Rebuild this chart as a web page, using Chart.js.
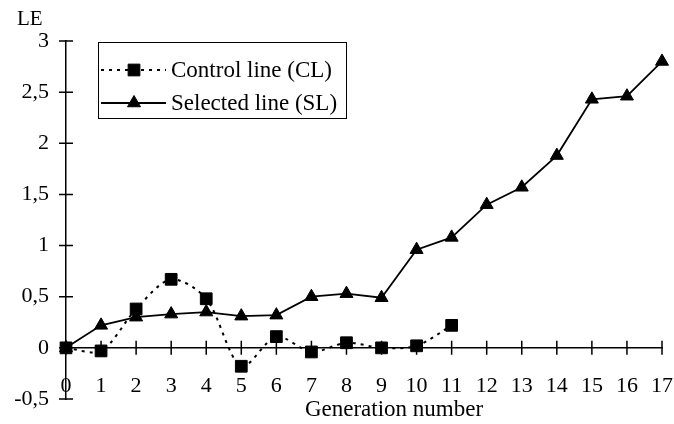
<!DOCTYPE html>
<html>
<head>
<meta charset="utf-8">
<script src="https://cdn.jsdelivr.net/npm/chart.js@4.4.1/dist/chart.umd.min.js"></script>
<style>
html,body{margin:0;padding:0;background:#fff;}
canvas{display:block;}
</style>
</head>
<body>
<canvas id="c" width="674" height="424"></canvas>
<script>
const generations = ['0','1','2','3','4','5','6','7','8','9','10','11','12','13','14','15','16','17'];
const controlLine = [0, -0.03, 0.38, 0.67, 0.48, -0.18, 0.11, -0.04, 0.05, 0.0, 0.02, 0.22, null, null, null, null, null, null];
const selectedLine = [0, 0.22, 0.30, 0.33, 0.35, 0.31, 0.32, 0.50, 0.53, 0.49, 0.96, 1.08, 1.40, 1.57, 1.88, 2.43, 2.46, 2.80];
const seriesNames = ['Control line (CL)', 'Selected line (SL)'];
const yAxisTitle = 'LE';
const xAxisTitle = 'Generation number';

const FONT = '"Liberation Serif", "Times New Roman", serif';

const crossTicks = {
  id: 'crossTicks',
  afterDraw(chart) {
    const ctx = chart.ctx, x = chart.scales.x, y = chart.scales.y;
    const y0 = y.getPixelForValue(0);
    const ax = chart.chartArea.left;
    ctx.save();
    ctx.strokeStyle = '#000';
    ctx.lineWidth = 1.5;
    ctx.beginPath();
    x.ticks.forEach((t, i) => {
      const px = x.getPixelForTick(i);
      ctx.moveTo(px, y0 - 7); ctx.lineTo(px, y0 + 7);
    });
    y.ticks.forEach((t, i) => {
      const py = y.getPixelForTick(i);
      ctx.moveTo(ax - 7, py); ctx.lineTo(ax + 7, py);
    });
    ctx.stroke();

    // axis titles
    ctx.fillStyle = '#000';
    ctx.font = '21px ' + FONT;
    ctx.textAlign = 'left';
    ctx.textBaseline = 'middle';
    ctx.fillText(yAxisTitle, 17, 19);
    ctx.font = '23px ' + FONT;
    ctx.textAlign = 'center';
    ctx.fillText(xAxisTitle, 394, 410);

    // legend
    ctx.lineWidth = 1;
    ctx.strokeStyle = '#000';
    ctx.strokeRect(98.5, 42.5, 248, 76);
    const rows = [70, 103];
    chart.data.datasets.forEach((ds, i) => {
      const ry = rows[i];
      ctx.save();
      ctx.strokeStyle = ds.borderColor;
      ctx.lineWidth = ds.borderWidth;
      ctx.setLineDash(ds.borderDash || []);
      ctx.beginPath();
      ctx.moveTo(101, ry); ctx.lineTo(166, ry);
      ctx.stroke();
      ctx.restore();
      ctx.fillStyle = '#000';
      ctx.strokeStyle = '#000';
      Chart.helpers.drawPoint(ctx, {
        pointStyle: ds.pointStyle, radius: ds.pointRadius, borderWidth: 1, rotation: 0
      }, 134, ry);
      ctx.fillStyle = '#000';
      ctx.font = '23px ' + FONT;
      ctx.textAlign = 'left';
      ctx.textBaseline = 'middle';
      ctx.fillText(ds.label, 171, ry + 1);
    });
    ctx.restore();
  }
};

new Chart(document.getElementById('c'), {
  type: 'line',
  data: {
    labels: generations,
    datasets: [
      {
        label: seriesNames[0],
        data: controlLine,
        borderColor: '#000',
        backgroundColor: '#000',
        borderWidth: 2,
        borderDash: [3, 5],
        pointStyle: 'rect',
        pointRadius: 8.3,
        pointBorderWidth: 1,
        tension: 0.3,
        spanGaps: false,
        clip: false
      },
      {
        label: seriesNames[1],
        data: selectedLine,
        borderColor: '#000',
        backgroundColor: '#000',
        borderWidth: 1.8,
        pointStyle: 'triangle',
        pointRadius: 7.5,
        pointBorderWidth: 1,
        tension: 0,
        clip: false
      }
    ]
  },
  options: {
    responsive: false,
    animation: false,
    devicePixelRatio: 1,
    layout: { padding: { left: 0, top: 41, right: 12, bottom: 25 } },
    plugins: { legend: { display: false }, tooltip: { enabled: false } },
    scales: {
      x: {
        position: { y: 0 },
        offset: false,
        afterFit(s) { s.paddingLeft = 0; s.paddingRight = 0; },
        grid: { display: false },
        border: { display: true, color: '#000', width: 1.5 },
        ticks: {
          autoSkip: false, maxRotation: 0, padding: 17,
          color: '#000', font: { family: FONT, size: 22 }
        }
      },
      y: {
        min: -0.5, max: 3,
        afterFit(s) { s.width = 66; },
        grid: { display: false },
        border: { display: true, color: '#000', width: 1.5 },
        ticks: {
          stepSize: 0.5, padding: 9,
          color: '#000', font: { family: FONT, size: 22 },
          callback: v => String(v).replace('.', ',')
        }
      }
    }
  },
  plugins: [crossTicks]
});
</script>
</body>
</html>
